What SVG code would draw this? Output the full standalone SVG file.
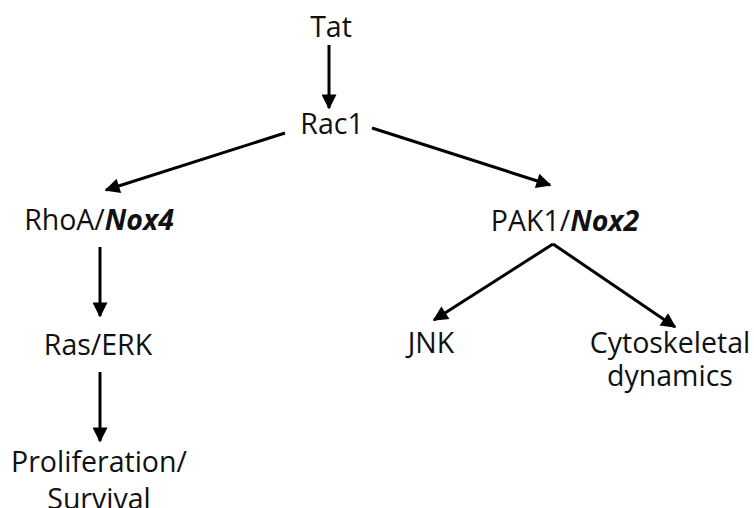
<svg xmlns="http://www.w3.org/2000/svg" width="754" height="508" viewBox="0 0 754 508">
<style>
text{font-family:"Open Sans","Noto Sans",sans-serif;font-size:28.5px;fill:#111;text-anchor:middle}
.b{font-weight:bold;font-style:italic}
.c line{stroke:#000;stroke-width:3;marker-end:url(#ah)}
</style>
<defs>
<marker id="ah" viewBox="0 0 10 10" refX="9" refY="5" markerWidth="5.5" markerHeight="5" orient="auto" markerUnits="strokeWidth">
<path d="M0,0L10,5L0,10z" fill="#000"/>
</marker>
</defs>
<rect width="754" height="508" fill="#fff"/>
<g class="c">
<line x1="329" y1="45" x2="329" y2="108"/>
<line x1="285" y1="133" x2="106" y2="190"/>
<line x1="372" y1="128" x2="550" y2="185"/>
<line x1="100" y1="247" x2="100" y2="316"/>
<line x1="100" y1="372" x2="100" y2="441"/>
<line x1="553" y1="244" x2="434" y2="320"/>
<line x1="553" y1="244" x2="675" y2="327"/>
</g>
<g id="tat"><text x="331" y="37">Tat</text></g>
<g id="rac1"><text x="332" y="134">Rac1</text></g>
<g id="rhoa"><text x="99" y="230">RhoA/<tspan class="b">Nox4</tspan></text></g>
<g id="pak1"><text x="565" y="231">PAK1/<tspan class="b">Nox2</tspan></text></g>
<g id="ras"><text x="98" y="355">Ras/ERK</text></g>
<g id="jnk"><text x="431" y="353">JNK</text></g>
<g id="cyto"><text x="670" y="353">Cytoskeletal</text><text x="670" y="386">dynamics</text></g>
<g id="prolif"><text x="99" y="472">Proliferation/</text><text x="99" y="509">Survival</text></g>
</svg>
